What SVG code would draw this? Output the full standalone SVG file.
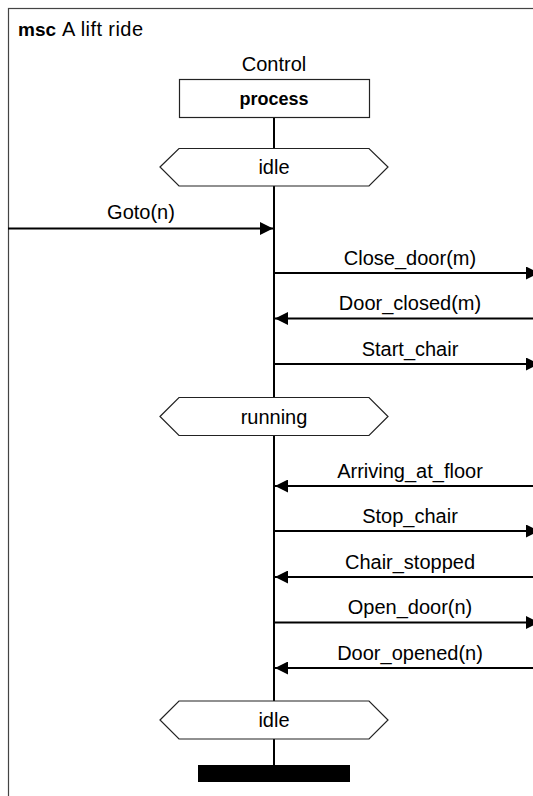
<svg xmlns="http://www.w3.org/2000/svg" width="533" height="796" viewBox="0 0 533 796">
  <style>
    .frame { fill: none; stroke: #444; stroke-width: 1.2; }
    .txt { font-family: "Liberation Sans", Arial, sans-serif; font-size: 20px; fill: #000; }
    .bold { font-family: "Liberation Sans", Arial, sans-serif; font-size: 18px; font-weight: bold; fill: #000; }
    .mid { text-anchor: middle; }
    .life { stroke: #000; stroke-width: 2; fill: none; }
    .box { fill: #fff; stroke: #222; stroke-width: 1.2; }
    .msg { stroke: #000; stroke-width: 2; fill: none; marker-end: url(#arrow); }
  </style>
  <defs>
    <marker id="arrow" viewBox="0 0 13 13" refX="13" refY="6.5" markerWidth="13" markerHeight="13" markerUnits="userSpaceOnUse" orient="auto">
      <path d="M0,0 L13,6.5 L0,13 Z" fill="#000"/>
    </marker>
  </defs>

  <rect width="533" height="796" fill="#fff"/>

  <!-- msc frame (extends past right and bottom edges) -->
  <g id="frame">
    <rect class="frame" x="8.5" y="8.5" width="560" height="820"/>
    <text class="bold" x="18" y="36" style="font-size:19px">msc</text>
    <text class="txt" x="62" y="36" textLength="81" lengthAdjust="spacing">A lift ride</text>
  </g>

  <!-- instance Control -->
  <g id="control">
    <text class="txt mid" x="274" y="71">Control</text>
    <line class="life" x1="274" y1="118" x2="274" y2="766"/>
    <rect class="box" x="179.5" y="79.5" width="190" height="38"/>
    <text class="bold mid" x="274" y="105">process</text>
  </g>

  <!-- conditions -->
  <g id="cond-idle-1">
    <polygon class="box" points="160,167 179,148.5 369,148.5 388,167 369,186 179,186"/>
    <text class="txt mid" x="274" y="174">idle</text>
  </g>
  <g id="cond-running">
    <polygon class="box" points="160,416.5 179,397.5 369,397.5 388,416.5 369,435.5 179,435.5"/>
    <text class="txt mid" x="274" y="424">running</text>
  </g>
  <g id="cond-idle-2">
    <polygon class="box" points="160,720 179,701 369,701 388,720 369,739 179,739"/>
    <text class="txt mid" x="274" y="727">idle</text>
  </g>

  <!-- instance end -->
  <g id="control-end">
    <rect x="198" y="765" width="152" height="17" fill="#000"/>
  </g>

  <!-- messages -->
  <g id="messages">
    <line class="msg" x1="8" y1="228.5" x2="273" y2="228.5"/>
    <text class="txt mid" x="141" y="219">Goto(n)</text>

    <line class="msg" x1="275" y1="273" x2="539" y2="273"/>
    <text class="txt mid" x="410" y="265">Close_door(m)</text>

    <line class="msg" x1="546" y1="318.5" x2="275" y2="318.5"/>
    <text class="txt mid" x="410" y="310">Door_closed(m)</text>

    <line class="msg" x1="275" y1="364" x2="539" y2="364"/>
    <text class="txt mid" x="410" y="356">Start_chair</text>

    <line class="msg" x1="546" y1="486" x2="275" y2="486"/>
    <text class="txt mid" x="410" y="478">Arriving_at_floor</text>

    <line class="msg" x1="275" y1="531" x2="539" y2="531"/>
    <text class="txt mid" x="410" y="523">Stop_chair</text>

    <line class="msg" x1="546" y1="577" x2="275" y2="577"/>
    <text class="txt mid" x="410" y="569">Chair_stopped</text>

    <line class="msg" x1="275" y1="622.5" x2="539" y2="622.5"/>
    <text class="txt mid" x="410" y="614">Open_door(n)</text>

    <line class="msg" x1="546" y1="668" x2="275" y2="668"/>
    <text class="txt mid" x="410" y="660">Door_opened(n)</text>
  </g>
</svg>
